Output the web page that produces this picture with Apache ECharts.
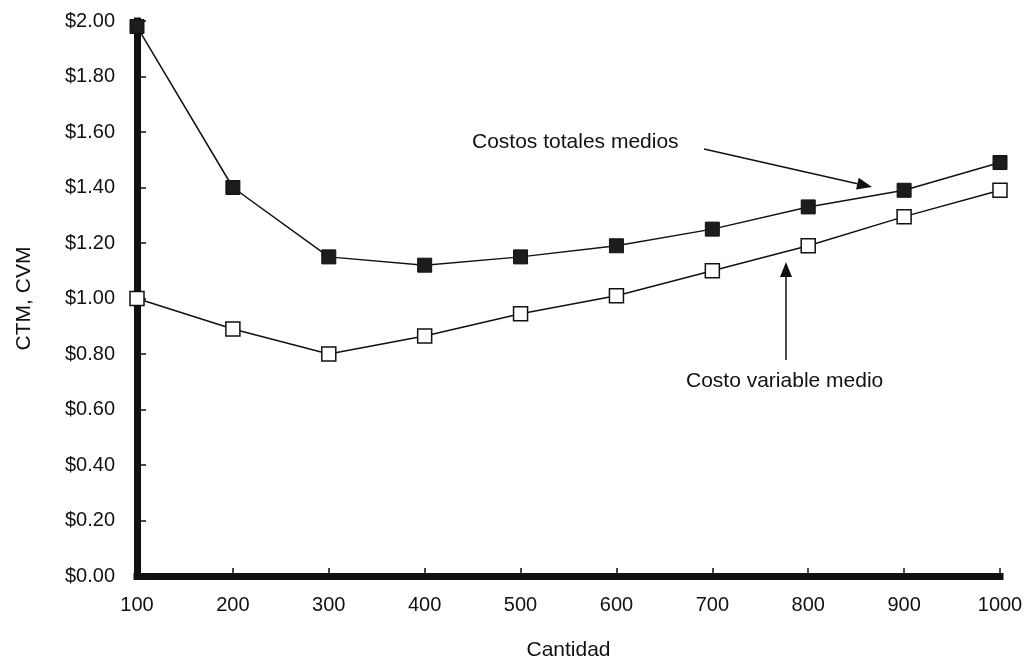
<!DOCTYPE html>
<html><head><meta charset="utf-8">
<script src="https://cdn.jsdelivr.net/npm/echarts@6/dist/echarts.min.js"></script>
<style>html,body{margin:0;padding:0;background:#fff}#c{width:1032px;height:664px}</style>
</head><body><div id="c"></div>
<script>
const cantidades = [100, 200, 300, 400, 500, 600, 700, 800, 900, 1000];
const ctm = [1.98, 1.40, 1.15, 1.12, 1.15, 1.19, 1.25, 1.33, 1.39, 1.49];
const cvm = [1.00, 0.89, 0.80, 0.865, 0.945, 1.01, 1.10, 1.19, 1.295, 1.39];
const yTicks = ['$0.00','$0.20','$0.40','$0.60','$0.80','$1.00','$1.20','$1.40','$1.60','$1.80','$2.00'];
const labelCTM = 'Costos totales medios';
const labelCVM = 'Costo variable medio';

const font = 'Liberation Sans, Arial, Helvetica, sans-serif';
const chart = echarts.init(document.getElementById('c'), null, {renderer:'canvas'});
const pair = (xs, ys) => xs.map((x,i)=>[x, ys[i]]);

chart.setOption({
  animation:false,
  backgroundColor:'#fff',
  grid:{left:137, right:32, top:21, bottom:88, outerBoundsMode:'none', containLabel:false},
  xAxis:{
    type:'value', min:100, max:1000, interval:100,
    name:'Cantidad', nameLocation:'middle', nameGap:64,
    nameTextStyle:{fontFamily:font, fontSize:21, color:'#111'},
    axisLine:{lineStyle:{color:'#111', width:7, cap:'square'}},
    axisTick:{inside:true, length:8, lineStyle:{color:'#111', width:1.5}},
    axisLabel:{fontFamily:font, fontSize:20, color:'#111', margin:19, formatter:(v)=>String(v)},
    splitLine:{show:false}
  },
  yAxis:{
    type:'value', min:0, max:2, interval:0.2,
    name:'CTM, CVM', nameLocation:'middle', nameGap:102,
    nameTextStyle:{fontFamily:font, fontSize:21, color:'#111'},
    axisLine:{show:true, lineStyle:{color:'#111', width:7, cap:'square'}},
    axisTick:{show:true, inside:true, length:9, lineStyle:{color:'#111', width:1.5}},
    axisLabel:{fontFamily:font, fontSize:20, color:'#111', margin:22,
      formatter:(v)=>yTicks[Math.round(v/0.2)]},
    splitLine:{show:false}
  },
  series:[
    {type:'line', data:pair(cantidades, ctm), symbol:'rect', symbolSize:14,
     lineStyle:{color:'#111', width:1.5}, itemStyle:{color:'#1c1c1c', borderColor:'#111', borderWidth:1}, z:3},
    {type:'line', data:pair(cantidades, cvm), symbol:'rect', symbolSize:14,
     lineStyle:{color:'#111', width:1.5}, itemStyle:{color:'#fff', borderColor:'#111', borderWidth:1.5}, z:3}
  ]
});

function arrow(x1,y1,x2,y2){
  const ang = Math.atan2(y2-y1, x2-x1), L=15, W=6;
  const bx = x2 - L*Math.cos(ang), by = y2 - L*Math.sin(ang);
  const px = -Math.sin(ang)*W, py = Math.cos(ang)*W;
  return [
    {type:'line', shape:{x1:x1,y1:y1,x2:bx,y2:by}, style:{stroke:'#111', lineWidth:1.5}},
    {type:'polygon', shape:{points:[[x2,y2],[bx+px,by+py],[bx-px,by-py]]}, style:{fill:'#111'}}
  ];
}
chart.setOption({graphic:[
  {type:'text', left:472, top:132, style:{text:labelCTM, font:'21px '+font, fill:'#111'}},
  {type:'text', left:686, top:371, style:{text:labelCVM, font:'21px '+font, fill:'#111'}},
  ...arrow(704,149,872,187),
  ...arrow(786,360,786,262)
]});
</script></body></html>
